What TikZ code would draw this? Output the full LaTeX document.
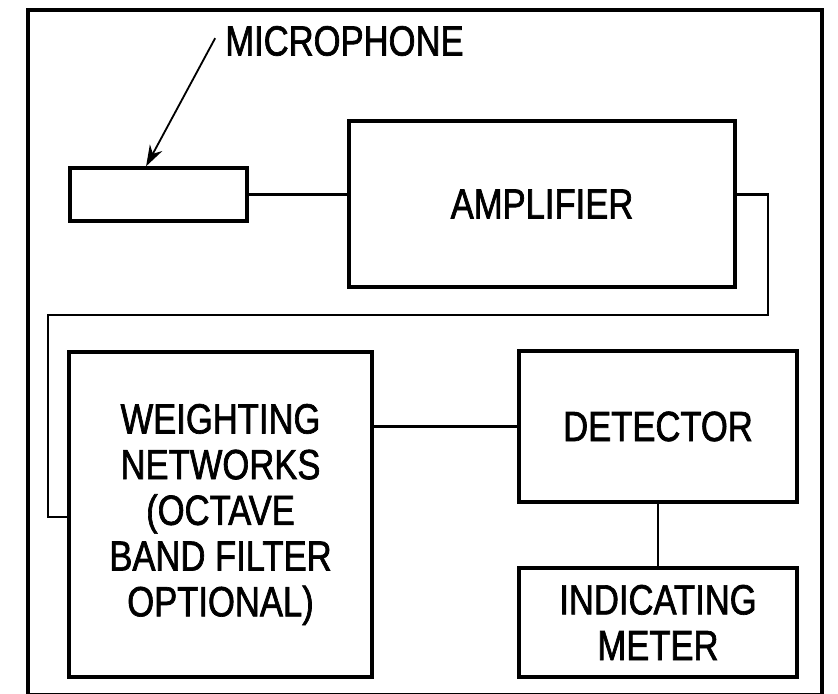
\documentclass[tikz,border=0pt]{standalone}
\usepackage{fontspec}
\setmainfont[FakeStretch=0.82, FakeBold=1.6]{Liberation Sans}
\usetikzlibrary{positioning, arrows.meta}

\begin{document}
\begin{tikzpicture}[
  x=0.025cm, y=-0.025cm,
  font=\fontsize{30}{32.5}\selectfont,
  box/.style={draw, rectangle, line width=2.4pt, inner sep=2pt, align=center},
  tag/.style={inner sep=0pt, anchor=west},
  wire/.style={line width=1.5pt},
  frame/.style={line width=2.2pt},
  arr/.style={-{Stealth[length=15pt, width=10pt]}, line width=1.3pt},
]
  \useasboundingbox (0,0) rectangle (838,694);

  % outer frame
  \draw[frame] (28,10) rectangle (822,695);

  % Row 1: microphone and amplifier
  \node[box, minimum width=4.425cm, minimum height=1.325cm] (mic) at (158.5,194.5) {};
  \node[box, minimum width=9.65cm, minimum height=4.15cm] (amp) at (542,204) {AMPLIFIER};

  % Row 2: weighting networks and detector
  \node[box, minimum width=7.575cm, minimum height=8.125cm] (weight) at (220.5,514.5)
    {WEIGHTING\\NETWORKS\\(OCTAVE\\BAND FILTER\\OPTIONAL)};
  \node[box, minimum width=6.95cm, minimum height=3.775cm] (det) at (658,426.5) {DETECTOR};

  % Row 3: meter
  \node[box, minimum width=6.95cm, minimum height=2.725cm] (meter) at (658,622.5)
    {INDICATING\\METER};

  % microphone callout
  \node[tag] (miclabel) at (225,41) {MICROPHONE};
  \coordinate (mictip) at ([xshift=-0.31cm]mic.north);
  \draw[arr] ([xshift=-7pt, yshift=2pt]miclabel.west) -- (mictip);

  % signal path
  \coordinate (bendA) at (768,315);
  \coordinate (bendB) at (48,315);
  \draw[wire] (mic.east) -- (mic.east -| amp.west);
  \draw[wire] (amp.east |- mic.east) -| (bendA) -- (bendB) |- ([yshift=-2pt]weight.west);
  \draw[wire] (det.west) -- (det.west -| weight.east);
  \draw[wire] (det.south) -- (meter.north);
\end{tikzpicture}
\end{document}
